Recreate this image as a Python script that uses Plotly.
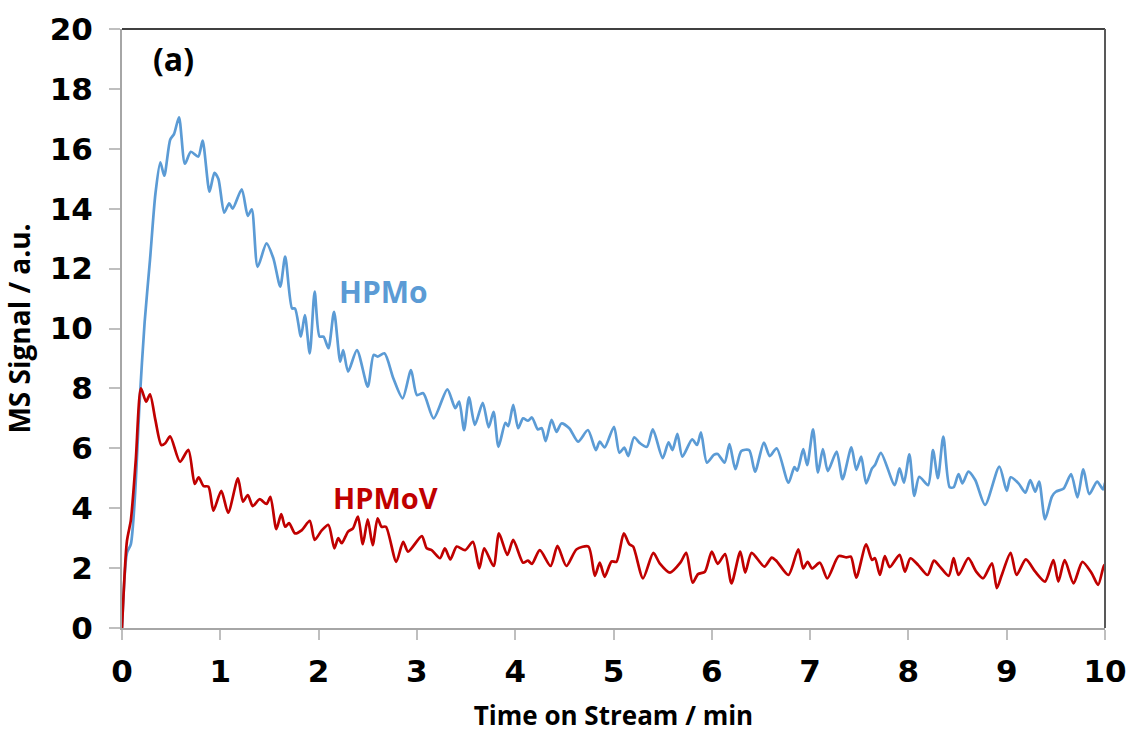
import plotly.graph_objects as go

# HPMo MS signal vs time on stream (min)
hpmo_t = [0, 0.05, 0.09, 0.13, 0.18, 0.23, 0.285, 0.34, 0.39, 0.43, 0.49, 0.53, 0.58, 0.64, 0.70, 0.776,
          0.82, 0.89, 0.94, 0.98, 1.04, 1.09, 1.126, 1.218, 1.28, 1.32, 1.38, 1.47, 1.54, 1.61, 1.66,
          1.73, 1.76, 1.82, 1.86, 1.91, 1.96, 2.01, 2.05, 2.10, 2.157, 2.22, 2.25, 2.30, 2.39, 2.50,
          2.56, 2.60, 2.67, 2.76, 2.855, 2.94, 3.00, 3.065, 3.17, 3.31, 3.39, 3.43, 3.48, 3.53, 3.59,
          3.67, 3.73, 3.78, 3.83, 3.90, 3.93, 3.98, 4.03, 4.08, 4.13, 4.17, 4.23, 4.27, 4.31, 4.37,
          4.42, 4.47, 4.55, 4.64, 4.74, 4.82, 4.86, 4.91, 5.005, 5.06, 5.11, 5.15, 5.21, 5.27, 5.34,
          5.40, 5.50, 5.56, 5.60, 5.65, 5.70, 5.80, 5.85, 5.89, 5.95, 6.02, 6.06, 6.13, 6.18, 6.24,
          6.30, 6.38, 6.44, 6.53, 6.59, 6.66, 6.78, 6.84, 6.87, 6.93, 6.97, 7.03, 7.08, 7.13, 7.18,
          7.27, 7.33, 7.42, 7.47, 7.52, 7.57, 7.63, 7.66, 7.72, 7.86, 7.91, 7.955, 8.01, 8.06, 8.11,
          8.20, 8.25, 8.30, 8.355, 8.42, 8.46, 8.51, 8.55, 8.61, 8.68, 8.78, 8.925, 9.00, 9.04, 9.12,
          9.19, 9.24, 9.29, 9.33, 9.39, 9.46, 9.50, 9.58, 9.655, 9.72, 9.78, 9.84, 9.92, 9.98, 10.0]
hpmo_v = [0, 2.5, 2.8, 4.3, 7.6, 10.2, 12.3, 14.5, 15.55, 15.1, 16.3, 16.5, 17.05, 15.5, 15.9, 15.74,
          16.27, 14.57, 15.2, 15.0, 13.87, 14.18, 14.0, 14.65, 13.76, 13.98, 12.06, 12.84, 12.34, 11.4, 12.4,
          10.67, 10.67, 9.73, 10.45, 9.17, 11.23, 9.73, 9.73, 9.34, 10.56, 8.89, 9.28, 8.56, 9.28, 8.06,
          9.12, 9.06, 9.17, 8.34, 7.67, 8.61, 7.78, 7.84, 7.0, 7.97, 7.34, 7.56, 6.61, 7.70, 6.78,
          7.52, 6.70, 7.22, 6.05, 6.85, 6.74, 7.45, 6.67, 7.0, 6.92, 7.03, 6.63, 6.67, 6.24, 6.95,
          6.55, 6.83, 6.67, 6.22, 6.61, 5.94, 6.22, 6.03, 6.72, 5.85, 6.02, 5.74, 6.37, 6.17, 6.05,
          6.63, 5.67, 6.20, 5.94, 6.48, 5.72, 6.30, 6.11, 6.53, 5.52, 5.78, 5.81, 5.52, 6.14, 5.30,
          5.91, 5.94, 5.22, 6.19, 5.74, 6.0, 4.85, 5.37, 5.25, 5.97, 5.44, 6.63, 5.19, 5.97, 5.24,
          5.89, 4.97, 6.03, 5.28, 5.72, 4.83, 5.33, 5.44, 5.85, 4.77, 5.33, 4.85, 5.80, 4.41, 5.05,
          4.77, 5.94, 5.0, 6.39, 4.70, 4.70, 5.14, 4.83, 5.22, 4.94, 4.11, 5.39, 4.58, 5.03, 4.83,
          4.52, 4.94, 4.55, 4.89, 3.63, 4.39, 4.55, 4.66, 5.14, 4.36, 5.30, 4.47, 4.89, 4.63, 4.85]

# HPMoV MS signal vs time on stream (min)
hpmov_t = [0, 0.05, 0.09, 0.14, 0.193, 0.245, 0.285, 0.34, 0.40, 0.44, 0.49, 0.59, 0.675, 0.74, 0.78,
           0.83, 0.88, 0.93, 1.01, 1.08, 1.18, 1.23, 1.28, 1.33, 1.40, 1.47, 1.51, 1.57, 1.62, 1.66,
           1.70, 1.76, 1.83, 1.91, 1.96, 2.03, 2.10, 2.16, 2.20, 2.235, 2.30, 2.35, 2.40, 2.45, 2.50,
           2.55, 2.60, 2.64, 2.685, 2.79, 2.86, 2.91, 3.05, 3.10, 3.15, 3.235, 3.285, 3.34, 3.405, 3.49,
           3.57, 3.635, 3.685, 3.78, 3.835, 3.92, 3.98, 4.08, 4.13, 4.17, 4.25, 4.36, 4.43, 4.52, 4.625,
           4.745, 4.81, 4.86, 4.91, 4.98, 5.03, 5.105, 5.16, 5.20, 5.30, 5.405, 5.47, 5.575, 5.68, 5.74,
           5.805, 5.86, 5.93, 6.00, 6.06, 6.135, 6.20, 6.29, 6.34, 6.405, 6.535, 6.61, 6.66, 6.78, 6.88,
           6.93, 6.975, 7.02, 7.10, 7.175, 7.29, 7.37, 7.415, 7.47, 7.57, 7.63, 7.66, 7.71, 7.76, 7.81,
           7.91, 7.965, 8.02, 8.10, 8.195, 8.26, 8.32, 8.41, 8.46, 8.51, 8.61, 8.69, 8.76, 8.85, 8.90,
           8.95, 9.04, 9.10, 9.195, 9.29, 9.39, 9.475, 9.525, 9.59, 9.68, 9.77, 9.865, 9.93, 9.99, 10.0]
hpmov_v = [0, 2.9, 3.6, 5.6, 8.0, 7.56, 7.8, 6.94, 6.11, 6.17, 6.4, 5.55, 5.95, 4.81, 5.03,
           4.74, 4.72, 3.92, 4.58, 3.85, 5.0, 4.22, 4.44, 4.07, 4.30, 4.14, 4.38, 3.3, 3.8, 3.38,
           3.50, 3.16, 3.27, 3.58, 2.94, 3.25, 3.44, 2.66, 3.0, 2.83, 3.22, 3.33, 3.72, 2.80, 3.63,
           2.77, 3.66, 3.38, 3.38, 2.21, 2.88, 2.55, 3.07, 2.66, 2.60, 2.33, 2.66, 2.29, 2.72, 2.60,
           2.88, 1.99, 2.66, 2.07, 3.16, 2.44, 2.94, 2.18, 2.25, 2.14, 2.60, 2.07, 2.74, 2.07, 2.63,
           2.72, 1.74, 2.18, 1.71, 2.22, 2.21, 3.16, 2.80, 2.72, 1.66, 2.51, 2.16, 1.85, 2.18, 2.51,
           1.51, 1.80, 1.88, 2.55, 2.14, 2.47, 1.49, 2.55, 1.85, 2.51, 2.05, 2.35, 2.23, 1.77, 2.63,
           1.99, 2.21, 1.99, 2.18, 1.66, 2.40, 2.36, 2.38, 1.68, 2.79, 2.27, 2.33, 1.77, 2.40, 2.03,
           2.44, 1.88, 2.33, 2.10, 1.77, 2.25, 2.05, 1.74, 2.33, 1.77, 2.33, 1.88, 1.66, 2.16, 1.33,
           1.77, 2.51, 1.77, 2.29, 1.88, 1.55, 2.27, 1.55, 2.27, 1.49, 2.21, 1.83, 1.44, 2.10, 2.0]

x_ticks = [0, 1, 2, 3, 4, 5, 6, 7, 8, 9, 10]
y_ticks = [0, 2, 4, 6, 8, 10, 12, 14, 16, 18, 20]

BLUE = "#5B9BD5"
RED = "#C00000"
AXIS_GREY = "#A6A6A6"
TICK_FONT = dict(family="DejaVu Sans", size=31, color="black", weight="bold")

fig = go.Figure()
fig.add_trace(go.Scatter(x=hpmo_t, y=hpmo_v, mode="lines", name="HPMo",
                         line=dict(color=BLUE, width=2.7, shape="spline", smoothing=0.7)))
fig.add_trace(go.Scatter(x=hpmov_t, y=hpmov_v, mode="lines", name="HPMoV",
                         line=dict(color=RED, width=2.7, shape="spline", smoothing=0.7)))

fig.update_layout(
    width=1129, height=733,
    margin=dict(l=122, r=24, t=29, b=105),
    plot_bgcolor="white", paper_bgcolor="white",
    showlegend=False,
    xaxis=dict(range=[0, 10], tickvals=x_ticks, ticktext=[str(t) for t in x_ticks],
               automargin=False,
               showgrid=False, zeroline=False, showline=True, linecolor=AXIS_GREY, linewidth=2,
               ticks="outside", ticklen=10, tickwidth=1.5, tickcolor="#BFBFBF",
               tickfont=TICK_FONT, ticklabelstandoff=5,
               title=dict(text="Time on Stream / min", standoff=20,
                          font=dict(family="Open Sans", size=26, color="black", weight="bold"))),
    yaxis=dict(range=[0, 20], tickvals=y_ticks, ticktext=[str(t) for t in y_ticks],
               automargin=False,
               showgrid=False, zeroline=False, showline=True, linecolor=AXIS_GREY, linewidth=2,
               ticks="outside", ticklen=11, tickwidth=1.5, tickcolor="#BFBFBF",
               tickfont=TICK_FONT, ticklabelstandoff=10,
               title=dict(text="MS Signal / a.u.", standoff=12,
                          font=dict(family="Open Sans", size=28, color="black", weight="bold"))),
    shapes=[
        dict(type="line", xref="paper", yref="paper", x0=0, x1=1, y0=1, y1=1,
             line=dict(color="black", width=1.5)),
        dict(type="line", xref="paper", yref="paper", x0=1, x1=1, y0=0, y1=1,
             line=dict(color="#595959", width=2)),
    ],
    annotations=[
        dict(x=0.52, y=19.0, text="(a)", showarrow=False,
             font=dict(family="Open Sans", size=32, color="black", weight="bold")),
        dict(x=2.665, y=11.25, text="HPMo", showarrow=False,
             font=dict(family="Open Sans", size=30, color=BLUE, weight="bold")),
        dict(x=2.68, y=4.37, text="HPMoV", showarrow=False,
             font=dict(family="Open Sans", size=29, color=RED, weight="bold")),
    ],
)

fig.write_html("out.html")
